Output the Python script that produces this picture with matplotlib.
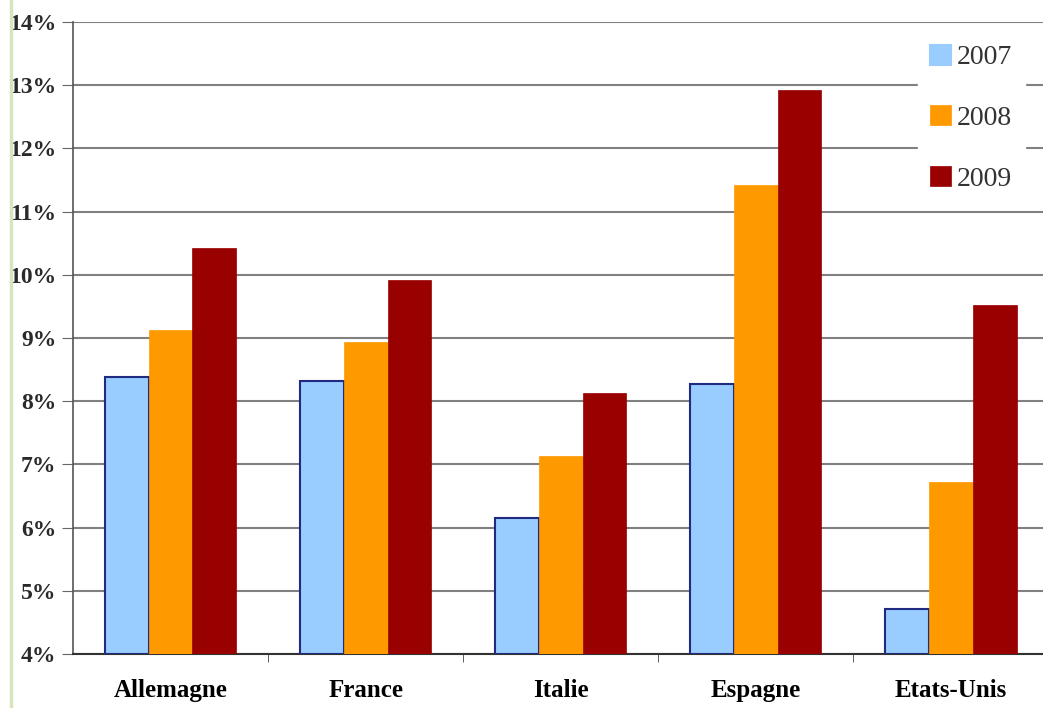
import matplotlib.pyplot as plt
import numpy as np
from matplotlib.lines import Line2D
from matplotlib.ticker import FuncFormatter, FixedLocator

countries = ['Allemagne', 'France', 'Italie', 'Espagne', 'Etats-Unis']
years = ['2007', '2008', '2009']
val_2007 = [8.38, 8.32, 6.15, 8.27, 4.71]
val_2008 = [9.13, 8.94, 7.13, 11.42, 6.72]
val_2009 = [10.42, 9.92, 8.13, 12.92, 9.52]

colors = ['#99CCFF', '#FF9900', '#990000']
edges = ['#1F2A80', '#FF9900', '#990000']

plt.rcParams['font.family'] = ['Liberation Serif', 'DejaVu Serif']

fig = plt.figure(figsize=(10.43, 7.08), dpi=100)
ax = fig.add_axes([0.07, 0.0763, 0.935, 0.8927])

x = np.arange(len(countries))
w = 0.225
for i, vals in enumerate([val_2007, val_2008, val_2009]):
    ax.bar(x + (i - 1) * w, np.array(vals) - 4, width=w, bottom=4,
           color=colors[i], edgecolor=edges[i], linewidth=1.5 if i == 0 else 0.5,
           label=years[i], zorder=3)

ax.set_xlim(-0.5, len(countries) - 0.5)
ax.set_ylim(4, 14)
ax.set_yticks(np.arange(4, 15, 1))
ax.yaxis.set_major_formatter(FuncFormatter(lambda v, p: '%d%%' % v))
ax.grid(axis='y', color='#808080', linewidth=1.5, zorder=0)

ax.set_xticks(x)
ax.set_xticklabels(countries, fontsize=18, fontweight='bold')
ax.tick_params(axis='x', length=0, pad=18)
ax.xaxis.set_minor_locator(FixedLocator(x[:-1] + 0.5))
ax.tick_params(axis='x', which='minor', length=6, color='#444444')
ax.tick_params(axis='y', length=8, color='#666666', labelsize=17, pad=4)
for lab in ax.get_yticklabels():
    lab.set_fontweight('bold')
    lab.set_color('#2a2a2a')

for s in ['top', 'right']:
    ax.spines[s].set_visible(False)
ax.spines['left'].set_color('#555555')
ax.spines['left'].set_linewidth(1.2)
ax.spines['bottom'].set_color('#333333')
ax.spines['bottom'].set_linewidth(1.5)

leg = ax.legend(loc='upper right', bbox_to_anchor=(0.99, 1.006), fontsize=20,
                frameon=True, fancybox=False, edgecolor='white', framealpha=1,
                handlelength=0.75, handleheight=0.75, handletextpad=0.2,
                labelspacing=1.25, borderpad=0.45)
for t in leg.get_texts():
    t.set_color('#333333')
for h, c in zip(leg.legend_handles, colors):
    h.set_edgecolor(c)

fig.add_artist(Line2D([0.0105, 0.0105], [0.0, 1.0], color='#D8E4BC', linewidth=2.5,
                      transform=fig.transFigure))

fig.savefig('out.png', dpi=100)
